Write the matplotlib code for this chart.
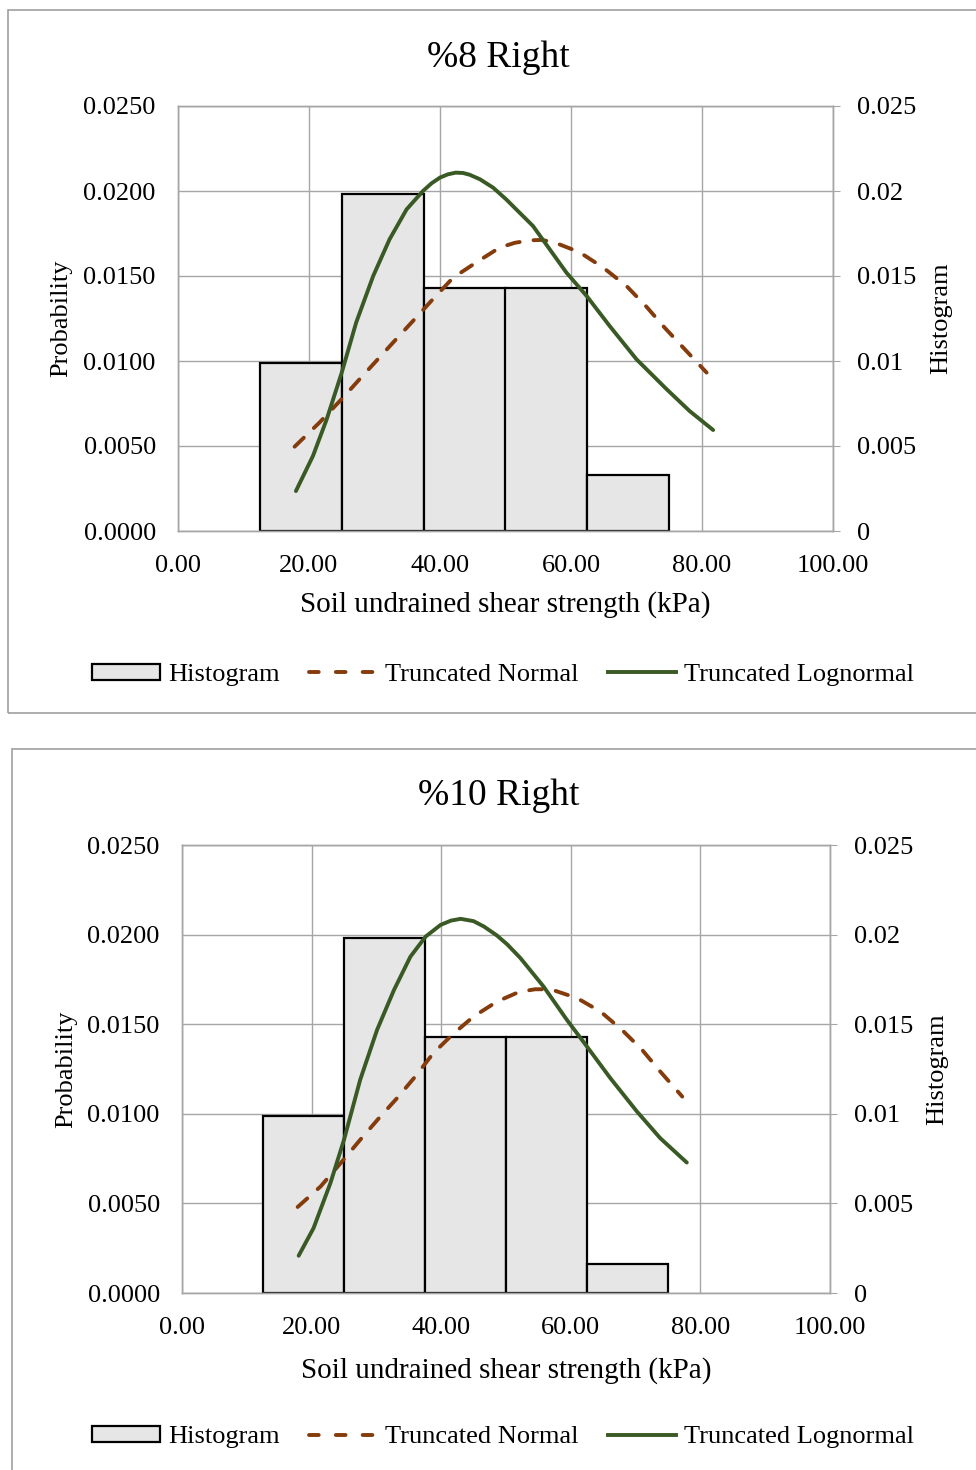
import matplotlib
matplotlib.use("Agg")
import matplotlib.pyplot as plt
from matplotlib.patches import Patch, Rectangle
from matplotlib.lines import Line2D
from matplotlib.ticker import FuncFormatter, MultipleLocator

plt.rcParams['font.family'] = 'Liberation Serif'
plt.rcParams['font.size'] = 19

# histogram classes (kPa) and bar heights for each case
bin_left = [12.5, 25.0, 37.5, 50.0, 62.5]
bin_width = 12.5
hist_8 = [0.0099, 0.0198, 0.0143, 0.0143, 0.0033]
hist_10 = [0.0099, 0.0198, 0.0143, 0.0143, 0.0016]

# fitted pdf curves, %8 right
norm8_x = [17.8, 21.6, 25.2, 27.7, 30.5, 33.3, 36.1, 38.9, 42.0, 45.5, 49.1,
           51.4, 53.7, 55.5, 57.3, 61.3, 64.9, 68.5, 71.5, 74.3, 77.1, 80.7]
norm8_y = [0.00496, 0.00638, 0.00785, 0.00892, 0.0101, 0.01128, 0.01245, 0.01363,
           0.0149, 0.01579, 0.01667, 0.01695, 0.0171, 0.01712, 0.0170, 0.0164,
           0.0155, 0.0144, 0.0132, 0.01196, 0.0108, 0.00932]
logn8_x = [18.0, 20.6, 22.7, 25.0, 27.2, 29.8, 32.3, 34.9, 37.4, 38.7, 40.0,
           41.2, 42.4, 43.5, 44.5, 46.1, 48.1, 50.1, 54.2, 59.3, 62.4, 65.9,
           70.0, 74.6, 78.1, 81.7]
logn8_y = [0.00235, 0.00441, 0.00657, 0.00932, 0.01226, 0.0150, 0.01716, 0.01892,
           0.0200, 0.02045, 0.02079, 0.02098, 0.02108, 0.02106, 0.02096, 0.02069,
           0.0202, 0.01951, 0.01794, 0.0152, 0.01382, 0.01206, 0.0101, 0.00834,
           0.00706, 0.00594]

# fitted pdf curves, %10 right
norm10_x = [17.85, 21.4, 24.7, 27.5, 30.4, 33.2, 36.0, 38.8, 41.7, 45.0, 48.6,
            52.0, 54.5, 56.9, 61.0, 64.6, 67.9, 71.0, 73.8, 77.2]
norm10_y = [0.0048, 0.00595, 0.00734, 0.00855, 0.00976, 0.01088, 0.01208, 0.01339,
            0.01441, 0.01543, 0.01626, 0.0168, 0.01695, 0.01695, 0.01645, 0.0157,
            0.01468, 0.01357, 0.01236, 0.01096]
logn10_x = [18.0, 20.3, 22.9, 25.0, 27.5, 30.1, 32.7, 35.25, 37.6, 39.9, 41.5,
            43.0, 45.0, 46.6, 48.6, 50.2, 52.2, 55.8, 59.4, 62.5, 66.1, 70.2,
            73.8, 77.9]
logn10_y = [0.00208, 0.00362, 0.00613, 0.00855, 0.0119, 0.01468, 0.0169, 0.01877,
            0.01989, 0.02054, 0.02078, 0.02088, 0.02075, 0.02045, 0.01995,
            0.01945, 0.0187, 0.0171, 0.01524, 0.01375, 0.01199, 0.01013, 0.00864,
            0.00728]

GRID = '#a6a6a6'
BAR = '#e6e6e6'
BROWN = '#843c0c'
GREEN = '#3a5a25'
LW = 2.8

W, H = 976, 1470
fig = plt.figure(figsize=(W / 100, H / 100), dpi=100)


def px_box(x0, y0, x1, y1):
    # pixel box (top-left origin) -> figure fraction rect
    return [x0 / W, 1 - y1 / H, (x1 - x0) / W, (y1 - y0) / H]


def panel(rect, title, hist, nx, ny, lx, ly, title_x, title_pad, legend_y):
    ax = fig.add_axes(rect)
    axh = ax.twinx()
    # curves on top of the bars
    ax.set_zorder(2)
    axh.set_zorder(1)
    ax.patch.set_visible(False)
    axh.patch.set_visible(True)
    axh.patch.set_facecolor('white')

    for a in (ax, axh):
        a.set_xlim(0, 100)
        a.set_ylim(0, 0.025)
        a.yaxis.set_major_locator(MultipleLocator(0.005))
        for s in a.spines.values():
            s.set_color(GRID)
            s.set_linewidth(1)

    ax.xaxis.set_major_locator(MultipleLocator(20))
    axh.xaxis.set_visible(True)
    axh.tick_params(axis='x', bottom=False, labelbottom=False)
    axh.grid(True, axis='both', color=GRID, linewidth=1)
    axh.set_axisbelow(True)

    axh.bar(bin_left, hist, width=bin_width, align='edge', color=BAR,
            edgecolor='black', linewidth=1.6)

    ax.plot(nx, ny, color=BROWN, linewidth=LW, dashes=(3.3, 3.6),
            dash_capstyle='round', solid_capstyle='round')
    ax.plot(lx, ly, color=GREEN, linewidth=LW, solid_capstyle='round',
            solid_joinstyle='round')

    ax.xaxis.set_major_formatter(FuncFormatter(lambda v, p: f'{v:.2f}'))
    ax.yaxis.set_major_formatter(FuncFormatter(lambda v, p: f'{v:.4f}'))
    axh.yaxis.set_major_formatter(FuncFormatter(lambda v, p: f'{v:g}'))
    ax.tick_params(axis='x', length=0, pad=17)
    ax.tick_params(axis='y', length=0, pad=16)
    axh.tick_params(axis='y', length=5, color=GRID, pad=12)

    ax.set_xlabel('Soil undrained shear strength (kPa)', fontsize=21)
    ax.xaxis.set_label_coords(0.5, -0.142)
    ax.set_ylabel('Probability')
    ax.yaxis.set_label_coords(-0.162, 0.5)
    axh.set_ylabel('Histogram', rotation=90)
    axh.yaxis.set_label_coords(1.148, 0.5)
    ax.set_title(title, fontsize=27, pad=title_pad)
    ax.title.set_x(title_x)

    handles = [
        Patch(facecolor=BAR, edgecolor='black', linewidth=1.6),
        Line2D([], [], color=BROWN, linewidth=LW, dashes=(2.5, 4.4),
               dash_capstyle='round'),
        Line2D([], [], color=GREEN, linewidth=LW),
    ]
    fig.legend(handles, ['Histogram', 'Truncated Normal', 'Truncated Lognormal'],
               loc='center', bbox_to_anchor=(503 / W, 1 - legend_y / H), ncol=3,
               frameon=False, handlelength=2.6, handleheight=0.55,
               handletextpad=0.3, columnspacing=1.1)
    return ax


# outer frames of the two charts
fig.add_artist(Rectangle((8 / W, 1 - 713 / H), 1.2, 703 / H, fill=False,
                         edgecolor='#a0a0a0', linewidth=1.2,
                         transform=fig.transFigure))
fig.add_artist(Rectangle((12 / W, -0.1), 1.2, 1 - 749 / H + 0.1, fill=False,
                         edgecolor='#a0a0a0', linewidth=1.2,
                         transform=fig.transFigure))

panel(px_box(178, 106, 833, 531), '%8 Right', hist_8, norm8_x, norm8_y,
      logn8_x, logn8_y, 0.4885, 28, 675)
panel(px_box(182, 845, 830, 1293), '%10 Right', hist_10, norm10_x, norm10_y,
      logn10_x, logn10_y, 0.488, 29, 1437)

fig.savefig('out.png', dpi=100)
